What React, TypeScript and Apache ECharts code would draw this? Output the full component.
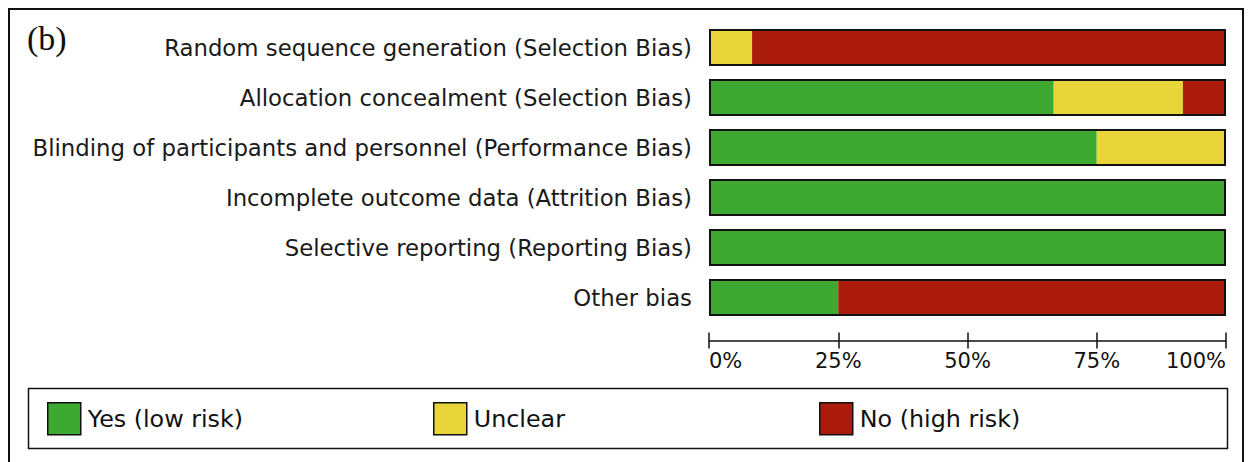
import React, { useEffect, useRef } from "react";
import * as echarts from "echarts";

const categories = [
  "Random sequence generation (Selection Bias)",
  "Allocation concealment (Selection Bias)",
  "Blinding of participants and personnel (Performance Bias)",
  "Incomplete outcome data (Attrition Bias)",
  "Selective reporting (Reporting Bias)",
  "Other bias",
];
const lowRisk = [0, 66.67, 75, 100, 100, 25];
const unclear = [8.33, 25, 25, 0, 0, 0];
const highRisk = [91.67, 8.33, 0, 0, 0, 75];
const totals = [100, 100, 100, 100, 100, 100];
const tickValues = [0, 25, 50, 75, 100];
const seriesNames = ["Yes (low risk)", "Unclear", "No (high risk)"];
const colors = ["#3da930", "#e8d53a", "#aa1b0b"];

const FONT = "DejaVu Sans";

export default function App() {
  const ref = useRef<HTMLDivElement>(null);
  useEffect(() => {
    if (!ref.current) return;
    const chart = echarts.init(ref.current, undefined, { renderer: "svg" });
    const xBase = {
      type: "value",
      min: tickValues[0],
      max: tickValues[tickValues.length - 1],
      interval: 25,
      position: "bottom",
      offset: 18,
      splitLine: { show: false },
    };
    const legendLefts = [47, 433, 819];
    chart.setOption({
      animation: false,
      backgroundColor: "#fff",
      graphic: [
        {
          type: "rect",
          shape: { x: 9, y: 9, width: 1234, height: 480 },
          style: { fill: "none", stroke: "#111", lineWidth: 2 },
          silent: true,
        },
        {
          type: "rect",
          shape: { x: 28.5, y: 388.5, width: 1199, height: 60 },
          style: { fill: "none", stroke: "#111", lineWidth: 1.5 },
          silent: true,
        },
        {
          type: "text",
          left: 27,
          top: 21,
          style: {
            text: "(b)",
            font: '34px "Liberation Serif"',
            fill: "#111",
          },
        },
      ],
      legend: seriesNames.map((n, i) => ({
        data: [n],
        left: legendLefts[i],
        top: 402,
        padding: 0,
        icon: "rect",
        itemWidth: 33,
        itemHeight: 32,
        itemStyle: { borderColor: "#111", borderWidth: 1.5 },
        textStyle: { fontSize: 23.8, color: "#111", fontFamily: FONT, padding: [0, 0, 0, 2] },
        selectedMode: false,
      })),
      grid: { left: 709, right: 26, top: 22.5, height: 300, containLabel: false },
      xAxis: [
        {
          ...xBase,
          axisLine: { show: true, lineStyle: { color: "#111", width: 1.5 } },
          axisTick: { show: true, inside: false, length: 8, lineStyle: { color: "#111", width: 1.5 } },
          axisLabel: {
            formatter: "{value}%",
            fontSize: 21,
            color: "#111",
            fontFamily: FONT,
            margin: 10,
            alignMinLabel: "left",
            alignMaxLabel: "right",
          },
        },
        {
          ...xBase,
          axisLine: { show: false },
          axisTick: { show: true, inside: true, length: 8, lineStyle: { color: "#111", width: 1.5 } },
          axisLabel: { show: false },
        },
      ],
      yAxis: {
        type: "category",
        data: categories,
        inverse: true,
        axisLine: { show: false },
        axisTick: { show: false },
        axisLabel: { fontSize: 22.8, color: "#1a1a1a", fontFamily: FONT, margin: 17 },
      },
      series: [
        ...[lowRisk, unclear, highRisk].map((d, i) => ({
          name: seriesNames[i],
          type: "bar",
          stack: "total",
          barWidth: 37,
          xAxisIndex: 0,
          data: d,
          itemStyle: { color: colors[i] },
          silent: true,
        })),
        {
          name: "outline",
          type: "bar",
          barWidth: 37,
          barGap: "-100%",
          xAxisIndex: 0,
          data: totals,
          z: 5,
          itemStyle: { color: "rgba(0,0,0,0)", borderColor: "#111", borderWidth: 2 },
          silent: true,
        },
      ],
    });
    return () => chart.dispose();
  }, []);
  return (
    <div
      ref={ref}
      style={{ position: "fixed", left: 0, top: 0, width: 1252, height: 462 }}
    />
  );
}
